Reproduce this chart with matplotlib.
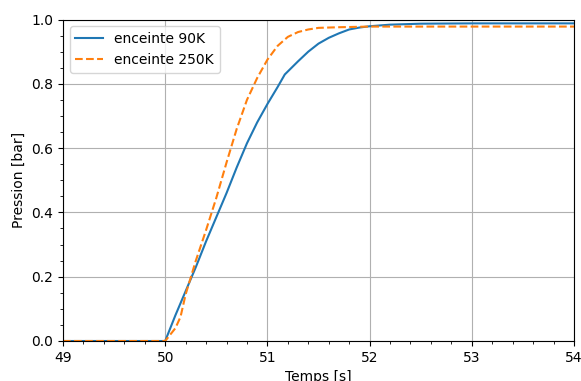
import matplotlib
matplotlib.use("Agg")
import matplotlib.pyplot as plt
from matplotlib.ticker import MultipleLocator

# Pressure curves
t_90 = [49.0, 50.0, 50.1, 50.2, 50.3, 50.4, 50.5, 50.6, 50.7, 50.8, 50.9, 51.0,
        51.1, 51.17, 51.3, 51.4, 51.5, 51.6, 51.7, 51.8, 51.9, 52.0, 52.2, 52.5,
        53.0, 54.0]
p_90 = [0.0, 0.0, 0.08, 0.155, 0.23, 0.31, 0.385, 0.46, 0.54, 0.615, 0.68, 0.737,
        0.79, 0.829, 0.87, 0.90, 0.925, 0.943, 0.957, 0.969, 0.975, 0.979, 0.984,
        0.987, 0.988, 0.988]

t_250 = [49.0, 50.0, 50.05, 50.1, 50.15, 50.2, 50.3, 50.4, 50.5, 50.6, 50.7,
         50.8, 50.9, 51.0, 51.1, 51.2, 51.3, 51.4, 51.5, 51.7, 52.0, 54.0]
p_250 = [0.0, 0.0, 0.02, 0.04, 0.075, 0.145, 0.25, 0.345, 0.445, 0.555, 0.66,
         0.75, 0.818, 0.875, 0.918, 0.946, 0.961, 0.969, 0.974, 0.976, 0.978, 0.978]

fig = plt.figure(figsize=(5.81, 3.81), dpi=100)
ax = fig.add_axes([0.1084, 0.105, 0.8796, 0.8438])

ax.plot(t_90, p_90, label="enceinte 90K")
ax.plot(t_250, p_250, "--", label="enceinte 250K")

ax.set_xlim(49, 54)
ax.set_ylim(0, 1)
ax.xaxis.set_minor_locator(MultipleLocator(0.2))
ax.yaxis.set_minor_locator(MultipleLocator(0.05))
ax.grid(True)
ax.set_xlabel("Temps [s]")
ax.set_ylabel("Pression [bar]")
ax.legend(loc="upper left")

fig.savefig("out.png", dpi=100)
